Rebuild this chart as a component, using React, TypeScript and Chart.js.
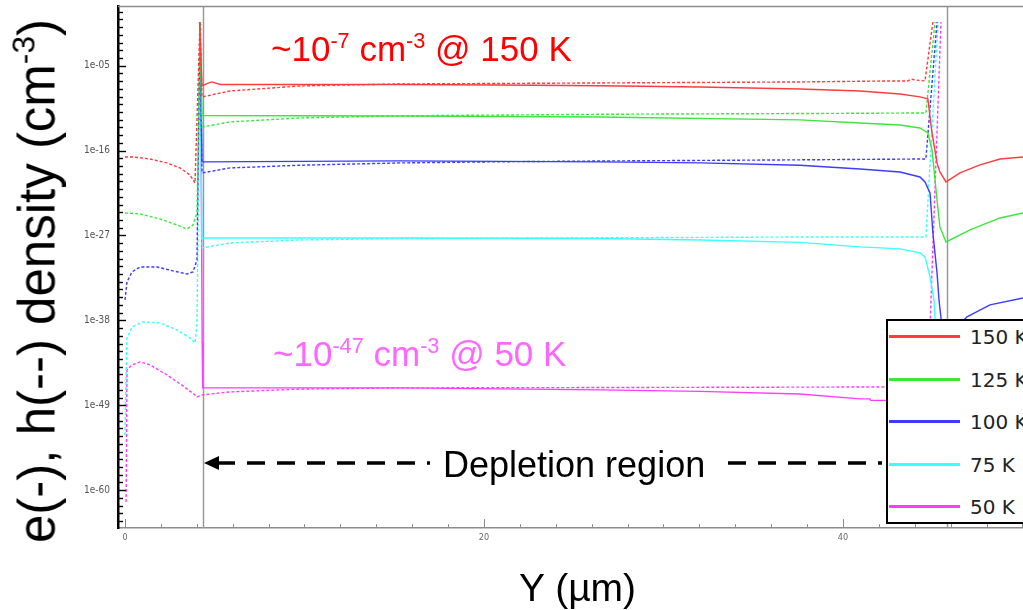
import React, { useEffect, useRef } from 'react';
import { Chart, registerables } from 'chart.js';

Chart.register(...registerables);

// Series labels and colours
const temperatures = ['150 K', '125 K', '100 K', '75 K', '50 K'];
const colors = ['#ff3c3c', '#3ce63c', '#3c3cff', '#3cffff', '#ff3cff'];

// Electron density e(-) (solid): [Y in µm, log10(density / cm^-3)]
const e150: [number, number][] = [
  [4.15, 0.66], [4.29, -7.63], [4.6, -7.3], [4.85, -7.11], [5.3, -7.44], [15.32, -7.44], [20.89, -7.5],
  [26.46, -7.6], [32.03, -7.76], [37.6, -8.02], [40.95, -8.28], [43.18, -8.67], [44.29, -9.05],
  [44.73, -9.31], [44.96, -13.72], [45.24, -17.6], [45.4, -18.77], [45.74, -20.06], [46.52, -18.9],
  [47.63, -17.86], [48.75, -17.09], [50.03, -16.83],
];
const e125: [number, number][] = [
  [4.16, 0.66], [4.29, -11.45], [15.32, -11.52], [26.46, -11.65], [37.6, -12.03], [40.95, -12.42],
  [43.18, -12.68], [44.29, -13.07], [44.73, -13.72], [44.96, -15.92], [45.24, -22.4], [45.4, -25.89],
  [45.74, -27.84], [47.08, -26.28], [48.75, -24.73], [50.03, -24.08],
];
const e100: [number, number][] = [
  [4.17, 0.66], [4.29, -17.47], [9.75, -17.4], [15.32, -17.34], [20.89, -17.4], [26.46, -17.47],
  [32.03, -17.6], [37.6, -17.9], [40.95, -18.38], [43.18, -18.77], [44.29, -19.42], [44.57, -20.06],
  [44.85, -21.49], [45.01, -26.67], [45.24, -31.85], [45.35, -35.34], [45.5, -38.5], [45.74, -40.5],
  [46.91, -37.55], [48.19, -35.99], [50.03, -35.09],
];
const e75: [number, number][] = [
  [4.17, 0.66], [4.29, -27.32], [15.32, -27.32], [26.46, -27.4], [32.03, -27.58], [37.6, -27.9],
  [40.95, -28.48], [43.18, -28.74], [44.29, -29.26], [44.57, -29.78], [44.85, -32.37], [45.07, -35.34],
  [45.3, -45.0], [45.6, -60.0],
];
const e50: [number, number][] = [
  [4.2, 0.66], [4.3, -40.79], [4.33, -46.75], [15.32, -46.75], [26.46, -47.0], [32.03, -47.2],
  [37.6, -47.53], [40.95, -48.17], [41.5, -48.17], [41.55, -48.37], [42.34, -48.37], [44.5, -48.6],
  [45.0, -52.0], [45.3, -64.0],
];

// Hole density h(--) (dashed): [Y in µm, log10(density / cm^-3)]
const h150: [number, number][] = [
  [0, -16.83], [0.45, -16.83], [1.39, -17.09], [2.34, -17.6], [3.06, -18.25], [3.62, -19.16],
  [3.9, -20.19], [4.18, 0.66], [4.29, -9.05], [5.85, -8.28], [9.75, -7.63], [15.32, -7.37],
  [26.46, -7.24], [37.6, -7.11], [42.6, -6.98], [43.6, -6.98], [43.8, -6.75], [44.0, -6.85],
  [44.57, -6.98], [45.01, 0.66],
];
const h125: [number, number][] = [
  [0, -24.08], [0.84, -24.21], [1.95, -24.86], [2.9, -25.64], [3.45, -26.15], [3.79, -25.64],
  [4.01, -24.08], [4.18, 0.66], [4.29, -12.94], [5.85, -12.29], [9.75, -11.77], [15.32, -11.5],
  [26.46, -11.3], [37.6, -11.2], [44.62, -11.13], [45.13, 0.66],
];
const h100: [number, number][] = [
  [0, -35.34], [0.11, -33.02], [0.39, -31.72], [0.84, -31.08], [1.78, -31.08], [2.67, -31.59],
  [3.45, -31.98], [3.79, -31.72], [4.01, -30.17], [4.18, 0.66], [4.29, -18.9], [5.85, -18.25],
  [9.75, -17.9], [15.32, -17.6], [20.89, -17.45], [26.46, -17.35], [37.6, -17.2], [44.62, -17.09],
  [45.24, 0.66],
];
const h75: [number, number][] = [
  [0, -52.84], [0.06, -45.0], [0.11, -40.27], [0.39, -38.85], [1.0, -38.2], [1.95, -38.33],
  [2.9, -39.24], [3.62, -40.27], [3.9, -40.92], [4.01, -38.5], [4.18, 0.66], [4.29, -28.61],
  [5.85, -27.97], [9.75, -27.58], [15.32, -27.4], [26.46, -27.3], [37.6, -27.2], [44.62, -27.19],
  [45.3, 0.66],
];
const h50: [number, number][] = [
  [0.06, -61.52], [0.11, -44.42], [0.39, -43.77], [0.84, -43.38], [1.39, -43.77], [2.34, -45.07],
  [3.23, -46.49], [3.9, -47.66], [4.01, -47.92], [4.29, -47.66], [5.85, -47.27], [9.75, -46.9],
  [15.32, -46.75], [26.46, -46.7], [37.6, -46.65], [44.73, -46.62], [45.46, 0.66],
];

const electronSeries = [e150, e125, e100, e75, e50];
const holeSeries = [h150, h125, h100, h75, h50];

// Axes
const majorExponents = [-60, -49, -38, -27, -16, -5];
const xTickValues = [0, 20, 40];
const xRange = [-0.39, 50.03];
const yExpRange = [-64.9, 2.73];
const junctions = [4.33, 45.77];

const fmtExp = (v: number) => {
  const e = Math.round(Math.log10(v));
  return '1e' + (e < 0 ? '-' : '+') + String(Math.abs(e)).padStart(2, '0');
};

const decorPlugin = {
  id: 'decor',
  beforeDatasetsDraw(chart: any) {
    const { ctx, chartArea: a, scales } = chart;
    ctx.save();
    ctx.strokeStyle = '#9a9a9a';
    ctx.lineWidth = 1.5;
    junctions.forEach((j) => {
      const px = Math.round(scales.x.getPixelForValue(j)) + 0.5;
      ctx.beginPath();
      ctx.moveTo(px, a.top);
      ctx.lineTo(px, a.bottom);
      ctx.stroke();
    });
    ctx.restore();
  },
  afterDraw(chart: any) {
    const { ctx, chartArea: a, scales } = chart;
    const { x, y } = scales;
    ctx.save();
    // top frame
    ctx.strokeStyle = '#8c8c8c';
    ctx.lineWidth = 1.5;
    ctx.beginPath();
    ctx.moveTo(a.left, a.top + 0.5);
    ctx.lineTo(a.right, a.top + 0.5);
    ctx.stroke();
    // y ticks (inward)
    ctx.strokeStyle = '#000';
    ctx.lineWidth = 1.4;
    const lo = Math.ceil(yExpRange[0]);
    const hi = Math.floor(yExpRange[1]);
    for (let e = lo; e <= hi; e++) {
      const py = Math.round(y.getPixelForValue(Math.pow(10, e))) + 0.5;
      const len = majorExponents.includes(e) ? 8 : 5;
      ctx.beginPath();
      ctx.moveTo(a.left, py);
      ctx.lineTo(a.left + len, py);
      ctx.stroke();
    }
    // x ticks (inward)
    ctx.strokeStyle = '#8c8c8c';
    ctx.lineWidth = 1;
    for (let v = 0; v <= xRange[1]; v += 2) {
      const px = Math.round(x.getPixelForValue(v)) + 0.5;
      const len = xTickValues.includes(v) ? 9 : 4;
      ctx.beginPath();
      ctx.moveTo(px, a.bottom);
      ctx.lineTo(px, a.bottom - len);
      ctx.stroke();
    }
    // depletion region arrow
    const ay = 463;
    ctx.fillStyle = '#000';
    ctx.beginPath();
    ctx.moveTo(204, ay);
    ctx.lineTo(219, ay - 7);
    ctx.lineTo(219, ay + 7);
    ctx.closePath();
    ctx.fill();
    ctx.strokeStyle = '#000';
    ctx.lineWidth = 3.5;
    ctx.setLineDash([18, 12]);
    ctx.beginPath();
    ctx.moveTo(217, ay);
    ctx.lineTo(430, ay);
    ctx.stroke();
    ctx.beginPath();
    ctx.moveTo(728, ay);
    ctx.lineTo(882, ay);
    ctx.stroke();
    ctx.restore();
  },
};

export default function App() {
  const canvasRef = useRef<HTMLCanvasElement>(null);

  useEffect(() => {
    if (!canvasRef.current) return;
    const datasets: any[] = [];
    temperatures.forEach((t, i) => {
      datasets.push({
        label: 'e ' + t,
        data: electronSeries[i].map(([xv, lv]) => ({ x: xv, y: Math.pow(10, lv) })),
        borderColor: colors[i],
        borderWidth: 1.4,
        pointRadius: 0,
        fill: false,
      });
      datasets.push({
        label: 'h ' + t,
        data: holeSeries[i].map(([xv, lv]) => ({ x: xv, y: Math.pow(10, lv) })),
        borderColor: colors[i],
        borderWidth: 1.4,
        borderDash: [3, 2],
        pointRadius: 0,
        fill: false,
      });
    });

    const chart = new Chart(canvasRef.current, {
      type: 'line',
      data: { datasets },
      plugins: [decorPlugin],
      options: {
        animation: false,
        responsive: false,
        devicePixelRatio: 1,
        layout: { padding: { top: 6, left: 0, right: 0, bottom: 0 } },
        plugins: { legend: { display: false }, tooltip: { enabled: false } },
        scales: {
          x: {
            type: 'linear',
            min: xRange[0],
            max: xRange[1],
            afterBuildTicks: (s: any) => {
              s.ticks = xTickValues.map((v) => ({ value: v }));
            },
            afterFit: (s: any) => {
              s.height = 82;
              s.paddingLeft = 0;
              s.paddingRight = 0;
            },
            ticks: {
              color: '#666',
              padding: 4,
              maxRotation: 0,
              font: { family: "'DejaVu Sans Condensed', 'DejaVu Sans', sans-serif", size: 9 },
            },
            grid: { display: true, drawOnChartArea: false, drawTicks: false },
            border: { display: true, color: '#8c8c8c', width: 1.5 },
          },
          y: {
            type: 'logarithmic',
            min: Math.pow(10, yExpRange[0]),
            max: Math.pow(10, yExpRange[1]),
            afterBuildTicks: (s: any) => {
              s.ticks = majorExponents.map((e) => ({ value: Math.pow(10, e) }));
            },
            afterFit: (s: any) => {
              s.width = 118;
              s.paddingTop = 0;
              s.paddingBottom = 0;
            },
            ticks: {
              color: '#555',
              padding: 8,
              callback: (v: any) => fmtExp(Number(v)),
              font: { family: "'DejaVu Sans Condensed', 'DejaVu Sans', sans-serif", size: 10 },
            },
            grid: { display: true, drawOnChartArea: false, drawTicks: false },
            border: { display: true, color: '#000', width: 2.5 },
          },
        },
      },
    });
    return () => chart.destroy();
  }, []);

  const sup = (s: string) => (
    <span style={{ fontSize: '0.62em', position: 'relative', top: '-0.62em' }}>{s}</span>
  );
  const font = "'Liberation Sans', Arial, sans-serif";

  return (
    <div
      style={{
        position: 'absolute',
        left: 0,
        top: 0,
        width: 1023,
        height: 610,
        overflow: 'hidden',
        background: '#fff',
        fontFamily: font,
      }}
    >
      <canvas ref={canvasRef} width={1023} height={610} style={{ display: 'block' }} />

      {/* y axis title */}
      <div
        style={{
          position: 'absolute',
          left: 37,
          top: 281,
          transform: 'translate(-50%, -50%) rotate(-90deg)',
          fontSize: 51,
          lineHeight: 1,
          whiteSpace: 'nowrap',
          color: '#000',
        }}
      >
        e(-), h(--) density (cm{sup('-3')})
      </div>

      {/* x axis title */}
      <div
        style={{ position: 'absolute', left: 519, top: 568, fontSize: 39, lineHeight: 1, whiteSpace: 'nowrap', color: '#000' }}
      >
        Y (µm)
      </div>

      {/* annotations */}
      <div
        style={{ position: 'absolute', left: 271, top: 31, fontSize: 35, lineHeight: 1, whiteSpace: 'nowrap', color: '#ff0000' }}
      >
        ~10{sup('-7')} cm{sup('-3')} @ 150 K
      </div>
      <div
        style={{ position: 'absolute', left: 273, top: 336, fontSize: 35, lineHeight: 1, whiteSpace: 'nowrap', color: '#ff66ff' }}
      >
        ~10{sup('-47')} cm{sup('-3')} @ 50 K
      </div>
      <div
        style={{ position: 'absolute', left: 443, top: 447, fontSize: 36, lineHeight: 1, whiteSpace: 'nowrap', color: '#000' }}
      >
        Depletion region
      </div>

      {/* legend */}
      <div
        style={{
          position: 'absolute',
          left: 886,
          top: 319,
          width: 160,
          height: 201,
          border: '2px solid #000',
          background: '#fff',
        }}
      >
        {temperatures.map((t, i) => (
          <div key={t} style={{ position: 'absolute', left: 0, top: i * 42.5, height: 30, width: 160 }}>
            <div style={{ position: 'absolute', left: 1, top: 14, width: 71, height: 3, background: colors[i] }} />
            <div
              style={{
                position: 'absolute',
                left: 82,
                top: 2,
                fontFamily: "'DejaVu Sans', sans-serif",
                fontSize: 20,
                lineHeight: '28px',
                color: '#222',
                whiteSpace: 'nowrap',
              }}
            >
              {t}
            </div>
          </div>
        ))}
      </div>
    </div>
  );
}
